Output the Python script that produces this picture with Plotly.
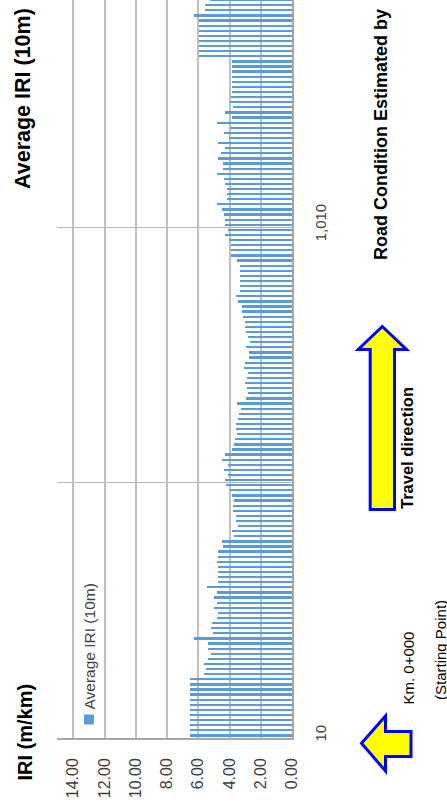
import plotly.graph_objects as go

# ---------------- data ----------------
distance_m = list(range(10, 1460, 10))  # 10 m segments, 10 .. 1450

iri_avg_10m = [
    6.53, 6.53, 6.53, 6.53, 6.53, 6.53, 6.53, 6.53, 6.53, 6.53, 6.53, 6.53,
    5.62, 5.53, 5.62, 5.38, 5.17, 5.36, 5.39, 6.26, 5.08, 5.16,
    5.10, 4.80, 4.74, 4.99, 4.81, 4.98, 4.83, 5.41, 4.74, 4.74,
    4.72, 4.72, 4.83, 4.74, 4.74, 4.43, 4.47, 3.70, 3.85, 3.47,
    3.57, 3.60, 3.77, 3.79, 3.70, 3.83, 3.98, 4.23, 4.28, 4.09,
    4.36, 4.09, 4.45, 4.30, 3.85, 3.72, 3.64, 3.55, 3.60, 3.60,
    3.47, 3.40, 3.28, 3.55, 2.94, 2.81, 2.87, 3.02, 2.89, 2.83,
    3.06, 2.98, 2.74, 2.74, 2.96, 2.72, 2.79, 2.94, 3.02, 3.04,
    3.11, 3.21, 3.21, 3.47, 3.57, 3.34, 3.34, 3.34, 3.34, 3.34,
    3.34, 3.51, 3.89, 3.91, 3.91, 4.02, 4.30, 4.11, 4.26, 4.30,
    4.36, 4.45, 4.81, 4.17, 4.17, 4.16, 4.28, 4.34, 4.77, 4.43,
    4.40, 4.74, 4.57, 4.30, 4.72, 4.04, 4.34, 3.98, 4.81, 3.81,
    4.30, 3.79, 3.96, 3.91, 3.87, 3.87, 3.87, 3.87, 3.87, 3.87,
    3.85, 5.96, 5.96, 5.96, 5.96, 5.96, 5.96, 5.96, 5.96, 6.30,
    5.60, 5.55, 5.23,
]

value_ticks = [0, 2, 4, 6, 8, 10, 12, 14]
category_tick_vals = [10, 1010]
category_tick_text = ["10", "1,010"]
category_grid_vals = [505, 1005]

series_name = "Average IRI (10m)"
chart_title = "Average IRI (10m)"
value_axis_title = "IRI (m/km)"

# ---------------- layout helpers ----------------
W, H = 447, 802
ML, MR, MT, MB = 57, 155, 0, 64
PW, PH = W - ML - MR, H - MT - MB
FONT = "Liberation Sans, Arial, sans-serif"
BAR_COLOR = "#5B9BD5"


def px(x):
    return (x - ML) / PW


def py(y):
    return (H - MB - y) / PH


def path(points):
    return "M " + " L ".join(f"{px(x):.5f},{py(y):.5f}" for x, y in points) + " Z"


fig = go.Figure()
fig.add_trace(go.Bar(
    x=iri_avg_10m,
    y=distance_m,
    orientation="h",
    width=4.4,
    marker=dict(color=BAR_COLOR, line=dict(width=0)),
    name=series_name,
    showlegend=False,
))

fig.update_layout(
    width=W, height=H,
    margin=dict(l=ML, r=MR, t=MT, b=MB, pad=0),
    paper_bgcolor="white",
    plot_bgcolor="white",
    font=dict(family=FONT, color="#404040"),
    bargap=0,
    xaxis=dict(
        range=[15.04, 0],
        tickvals=value_ticks,
        tickformat=".2f",
        tickangle=-90,
        tickfont=dict(size=16, color="#404040"),
        showgrid=True, gridcolor="#bfbfbf", gridwidth=1.5,
        zeroline=False,
        showline=True, linecolor="#a6a6a6", linewidth=1.5,
        ticks="", ticklabelstandoff=12,
        automargin=False,
    ),
    yaxis=dict(
        range=[5, 1450.2],
        side="right",
        tickvals=category_tick_vals,
        ticktext=category_tick_text,
        tickangle=-90,
        tickfont=dict(size=15, color="#404040"),
        showgrid=False,
        minor=dict(tickvals=category_grid_vals, showgrid=True,
                   gridcolor="#b4b4b4", gridwidth=1, ticks=""),
        zeroline=False,
        showline=True, linecolor="#a6a6a6", linewidth=1.5,
        ticks="", ticklabelstandoff=14,
        automargin=False,
    ),
)

ann = []
# chart title (left side, rotated)
ann.append(dict(text=f"<b>{chart_title}</b>", x=px(22.5), y=py(98.5), textangle=-90,
                font=dict(size=21.5, color="#000000", family=FONT)))
# value axis title
ann.append(dict(text=f"<b>{value_axis_title}</b>", x=px(24.5), y=py(732), textangle=-90,
                font=dict(size=20, color="#000000", family=FONT)))
# legend text
ann.append(dict(text=series_name, x=px(89), y=py(646.5), textangle=-90,
                font=dict(size=15.5, color="#404040", family=FONT)))
# right-side notes
ann.append(dict(text="<b>Road Condition Estimated by</b>", x=px(381), y=py(135), textangle=-90,
                font=dict(size=18, color="#000000", family=FONT)))
ann.append(dict(text="<b>Travel direction</b>", x=px(407.5), y=py(448.5), textangle=-90,
                font=dict(size=16.5, color="#000000", family=FONT)))
ann.append(dict(text="Km. 0+000", x=px(407.5), y=py(668), textangle=-90,
                font=dict(size=15, color="#000000", family=FONT)))
ann.append(dict(text="(Starting Point)", x=px(440), y=py(650), textangle=-90,
                font=dict(size=15, color="#000000", family=FONT)))
for a in ann:
    a.update(xref="paper", yref="paper", showarrow=False, xanchor="center", yanchor="middle")
fig.update_layout(annotations=ann)

shapes = []
# legend marker
shapes.append(dict(type="rect", xref="paper", yref="paper",
                   x0=px(84), x1=px(94), y0=py(724.5), y1=py(714.5),
                   fillcolor=BAR_COLOR, line=dict(width=0)))
# up arrow (travel direction)
up_pts = [(382.3, 326.5), (406.5, 349.5), (394.5, 349.5), (394.5, 509.5),
          (370.2, 509.5), (370.2, 349.5), (358.2, 349.5)]
shapes.append(dict(type="path", xref="paper", yref="paper", path=path(up_pts),
                   fillcolor="#FFFF00", line=dict(color="#0000FF", width=3)))
# left arrow (starting point)
left_pts = [(361.5, 743.3), (385.5, 716), (385.5, 731.5), (411, 731.5),
            (411, 756.5), (385.5, 756.5), (385.5, 771)]
shapes.append(dict(type="path", xref="paper", yref="paper", path=path(left_pts),
                   fillcolor="#FFFF00", line=dict(color="#0000FF", width=3)))
fig.update_layout(shapes=shapes)

fig.write_html("out.html", config={"displayModeBar": False},
               post_script="document.body.style.margin='0px';")
